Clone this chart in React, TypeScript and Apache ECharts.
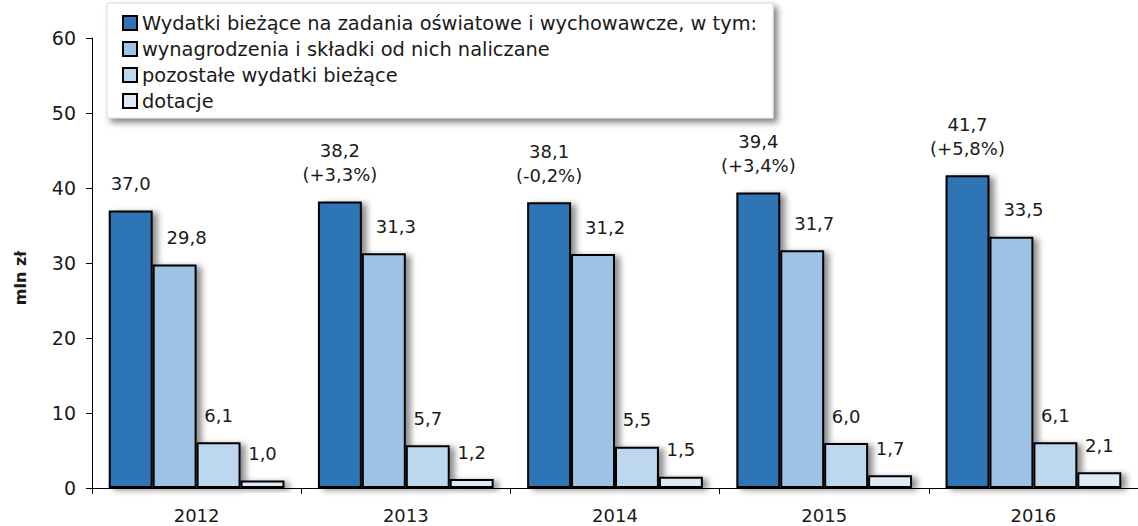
import React, { useEffect, useRef } from "react";
import * as echarts from "echarts";

const years = ["2012", "2013", "2014", "2015", "2016"];
const totalSpend = [37.0, 38.2, 38.1, 39.4, 41.7];
const totalChange = ["", "+3,3%", "-0,2%", "+3,4%", "+5,8%"];
const wages = [29.8, 31.3, 31.2, 31.7, 33.5];
const otherSpend = [6.1, 5.7, 5.5, 6.0, 6.1];
const grants = [1.0, 1.2, 1.5, 1.7, 2.1];
const seriesNames = [
  "Wydatki bieżące na zadania oświatowe i wychowawcze, w tym:",
  "wynagrodzenia i składki od nich naliczane",
  "pozostałe wydatki bieżące",
  "dotacje",
];
const colors = ["#2E74B5", "#9DC3E6", "#BDD7EE", "#DEEBF7"];

const FONT = "DejaVu Sans";
const fmt = (v: number) => v.toFixed(1).replace(".", ",");

export default function App() {
  const ref = useRef<HTMLDivElement>(null);
  useEffect(() => {
    if (!ref.current) return;
    const chart = echarts.init(ref.current, null, { renderer: "svg" });
    const barStyle = (c: string) => ({
      color: c,
      borderColor: "#000",
      borderWidth: 2,
      shadowBlur: 6,
      shadowColor: "rgba(0,0,0,0.45)",
      shadowOffsetX: 5,
      shadowOffsetY: 2,
    });
    const labelBase = {
      show: true,
      position: "top",
      distance: 15,
      color: "#1a1a1a",
      fontFamily: FONT,
      fontSize: 18,
      lineHeight: 24,
    };
    const datasets = [totalSpend, wages, otherSpend, grants];
    const series = datasets.map((d, i) => ({
      name: seriesNames[i],
      type: "bar",
      data: d,
      barGap: "0%",
      barCategoryGap: "16%",
      itemStyle: barStyle(colors[i]),
      label: {
        ...labelBase,
        offset: i === 1 ? [12, 0] : [0, 0],
        formatter: (p: any) => {
          const v = fmt(p.value);
          if (i === 0 && totalChange[p.dataIndex]) {
            return v + "\n(" + totalChange[p.dataIndex] + ")";
          }
          return v;
        },
      },
    }));
    chart.setOption({
      animation: false,
      textStyle: { fontFamily: FONT },
      grid: { left: 92, top: 38, bottom: 38, width: 1056 },
      legend: {
        orient: "vertical",
        left: 107,
        top: 3,
        padding: [10, 16, 7, 15],
        itemWidth: 14,
        itemHeight: 14,
        itemGap: 6,
        icon: "rect",
        backgroundColor: "#fff",
        borderColor: "#d8d8d8",
        borderWidth: 1,
        shadowBlur: 6,
        shadowColor: "rgba(0,0,0,0.5)",
        shadowOffsetX: 4,
        shadowOffsetY: 4,
        textStyle: {
          fontFamily: FONT,
          fontSize: 19.4,
          lineHeight: 20,
          color: "#1a1a1a",
        },
        itemStyle: { borderColor: "#000", borderWidth: 2, shadowBlur: 0, shadowOffsetX: 0, shadowOffsetY: 0 },
        data: seriesNames,
      },
      xAxis: {
        type: "category",
        data: years,
        axisLine: { lineStyle: { color: "#000", width: 1 } },
        axisTick: { show: true, length: 6, lineStyle: { color: "#000" } },
        axisLabel: { color: "#1a1a1a", fontSize: 18, fontFamily: FONT, margin: 18 },
      },
      yAxis: {
        type: "value",
        min: 0,
        max: 60,
        interval: 10,
        name: "mln zł",
        nameLocation: "middle",
        nameGap: 64,
        nameRotate: 90,
        nameTextStyle: {
          fontSize: 16,
          fontWeight: "bold",
          color: "#1a1a1a",
          fontFamily: FONT,
          padding: [0, 30, 0, 0],
        },
        axisLine: { show: true, lineStyle: { color: "#000", width: 1 } },
        axisTick: { show: true, length: 6, lineStyle: { color: "#000" } },
        splitLine: { show: false },
        axisLabel: { color: "#1a1a1a", fontSize: 19, fontFamily: FONT, margin: 16 },
      },
      series,
    });
    return () => chart.dispose();
  }, []);
  return <div ref={ref} style={{ width: 1138, height: 526, position: "absolute", left: 0, top: 0 }} />;
}
